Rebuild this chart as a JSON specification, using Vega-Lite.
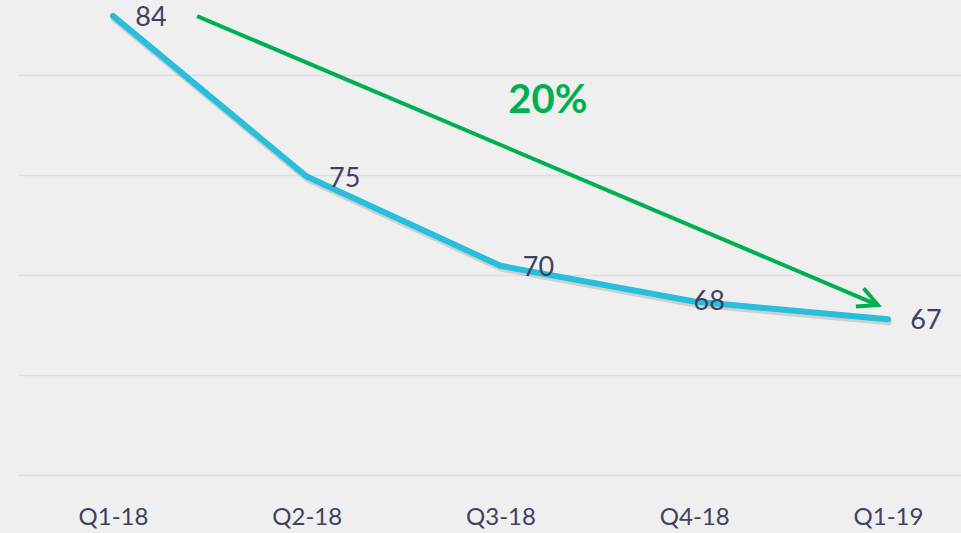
{
  "$schema": "https://vega.github.io/schema/vega-lite/v6.json",
  "width": 943,
  "height": 475,
  "padding": {"left": 18, "top": 0, "right": 0, "bottom": 58},
  "autosize": {"type": "none"},
  "background": "#efefef",
  "config": {"view": {"stroke": null}, "font": "Lato"},
  "datasets": {
    "series": [
      {"quarter": "Q1-18", "t": 0, "value": 84},
      {"quarter": "Q2-18", "t": 1, "value": 75},
      {"quarter": "Q3-18", "t": 2, "value": 70},
      {"quarter": "Q4-18", "t": 3, "value": 68},
      {"quarter": "Q1-19", "t": 4, "value": 67}
    ],
    "arrow": [{"t": 0.434, "value": 83.99, "t2": 3.948, "value2": 67.8}],
    "note": [{"t": 2.245, "value": 79.23, "text": "20%"}]
  },
  "layer": [
    {
      "data": {"name": "series"},
      "mark": {"type": "line", "color": "#6f6f6f", "opacity": 0.25, "strokeWidth": 6, "yOffset": 3, "xOffset": 1, "strokeCap": "round", "strokeJoin": "round"},
      "encoding": {
        "x": {"field": "t", "type": "quantitative",
          "scale": {"domain": [-0.49, 4.377], "nice": false, "zero": false},
          "axis": {"values": [0, 1, 2, 3, 4], "labelExpr": "['Q1-18','Q2-18','Q3-18','Q4-18','Q1-19'][datum.value]", "grid": false, "ticks": false, "domain": false, "title": null, "labelFontSize": 24, "labelColor": "#3d4263", "labelPadding": 30, "labelFont": "Lato"}},
        "y": {"field": "value", "type": "quantitative",
          "scale": {"domain": [58.28, 84.89], "nice": false, "zero": false},
          "axis": {"values": [58.28, 63.88, 69.48, 75.09, 80.69], "labels": false, "ticks": false, "domain": false, "title": null, "grid": true, "gridColor": "#dcdde7", "gridWidth": 1.5}}
      }
    },
    {
      "data": {"name": "series"},
      "mark": {"type": "line", "color": "#27bfdb", "strokeWidth": 6, "strokeCap": "round", "strokeJoin": "round"},
      "encoding": {
        "x": {"field": "t", "type": "quantitative"},
        "y": {"field": "value", "type": "quantitative"}
      }
    },
    {
      "data": {"name": "series"},
      "transform": [{"filter": "datum.value != 68"}],
      "mark": {"type": "text", "dx": 38, "dy": 2, "fontSize": 27, "color": "#3d4263", "font": "Lato"},
      "encoding": {
        "x": {"field": "t", "type": "quantitative"},
        "y": {"field": "value", "type": "quantitative"},
        "text": {"field": "value", "type": "quantitative"}
      }
    },
    {
      "data": {"name": "series"},
      "transform": [{"filter": "datum.value == 68"}],
      "mark": {"type": "text", "dx": 15, "dy": 1, "fontSize": 27, "color": "#3d4263", "font": "Lato"},
      "encoding": {
        "x": {"field": "t", "type": "quantitative"},
        "y": {"field": "value", "type": "quantitative"},
        "text": {"field": "value", "type": "quantitative"}
      }
    },
    {
      "data": {"name": "arrow"},
      "mark": {"type": "rule", "color": "#00b050", "strokeWidth": 4},
      "encoding": {
        "x": {"field": "t", "type": "quantitative"},
        "y": {"field": "value", "type": "quantitative"},
        "x2": {"field": "t2"},
        "y2": {"field": "value2"}
      }
    },
    {
      "data": {"name": "arrow"},
      "mark": {"type": "point", "shape": "M-1,-0.5L0,0L-1,0.5", "filled": false, "stroke": "#00b050", "strokeWidth": 4, "size": 1550, "angle": 23, "opacity": 1, "strokeJoin": "miter"},
      "encoding": {
        "x": {"field": "t2", "type": "quantitative"},
        "y": {"field": "value2", "type": "quantitative"}
      }
    },
    {
      "data": {"name": "note"},
      "mark": {"type": "text", "fontSize": 40, "fontWeight": "bold", "color": "#00b050", "font": "Lato"},
      "encoding": {
        "x": {"field": "t", "type": "quantitative"},
        "y": {"field": "value", "type": "quantitative"},
        "text": {"field": "text"}
      }
    }
  ]
}
